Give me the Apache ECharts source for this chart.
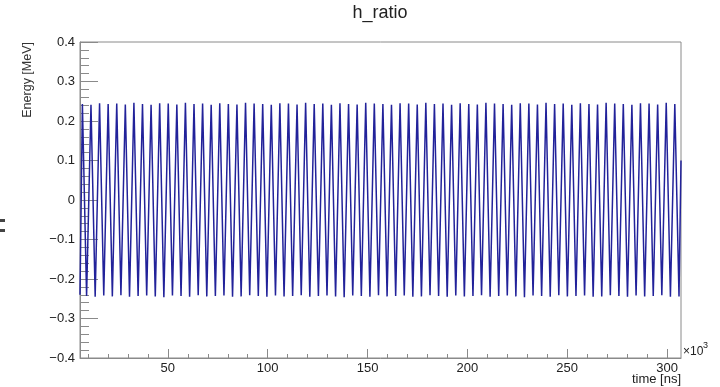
<!DOCTYPE html>
<html>
<head>
<meta charset="utf-8">
<script src="https://cdn.jsdelivr.net/npm/echarts@6/dist/echarts.min.js"></script>
<style>
html,body{margin:0;padding:0;background:#fff;}
#chart{width:720px;height:387px;}
</style>
</head>
<body>
<div id="chart"></div>
<script>
// ---- data (time in 10^3 ns, energy in MeV) ----
const startPoint = [6.0, -0.240];
const peakTime = [7.2, 11.5, 15.8, 20.1, 24.4, 28.7, 33.0, 37.3, 41.6, 45.9, 50.2, 54.5, 58.8, 63.1, 67.4, 71.7, 76.0, 80.3, 84.6, 88.9, 93.2, 97.5, 101.8, 106.1, 110.4, 114.7, 119.0, 123.3, 127.6, 131.9, 136.2, 140.5, 144.8, 149.1, 153.4, 157.7, 162.0, 166.3, 170.6, 174.9, 179.2, 183.5, 187.8, 192.1, 196.4, 200.7, 205.0, 209.3, 213.6, 217.9, 222.2, 226.5, 230.8, 235.1, 239.4, 243.7, 248.0, 252.3, 256.6, 260.9, 265.2, 269.5, 273.8, 278.1, 282.4, 286.7, 291.0, 295.3, 299.6, 303.9];
const peakEnergy = [0.243, 0.241, 0.245, 0.243, 0.244, 0.242, 0.246, 0.243, 0.241, 0.245, 0.244, 0.242, 0.246, 0.243, 0.244, 0.241, 0.245, 0.243, 0.242, 0.246, 0.244, 0.243, 0.241, 0.245, 0.244, 0.242, 0.246, 0.243, 0.244, 0.241, 0.245, 0.243, 0.242, 0.246, 0.244, 0.243, 0.241, 0.245, 0.244, 0.242, 0.246, 0.243, 0.244, 0.241, 0.245, 0.243, 0.242, 0.246, 0.244, 0.243, 0.241, 0.245, 0.244, 0.242, 0.246, 0.243, 0.244, 0.241, 0.245, 0.243, 0.242, 0.246, 0.244, 0.243, 0.241, 0.245, 0.244, 0.242, 0.246, 0.243];
const troughTime = [9.3, 13.6, 17.9, 22.2, 26.5, 30.8, 35.1, 39.4, 43.7, 48.0, 52.3, 56.6, 60.9, 65.2, 69.5, 73.8, 78.1, 82.4, 86.7, 91.0, 95.3, 99.6, 103.9, 108.2, 112.5, 116.8, 121.1, 125.4, 129.7, 134.0, 138.3, 142.6, 146.9, 151.2, 155.5, 159.8, 164.1, 168.4, 172.7, 177.0, 181.3, 185.6, 189.9, 194.2, 198.5, 202.8, 207.1, 211.4, 215.7, 220.0, 224.3, 228.6, 232.9, 237.2, 241.5, 245.8, 250.1, 254.4, 258.7, 263.0, 267.3, 271.6, 275.9, 280.2, 284.5, 288.8, 293.1, 297.4, 301.7, 306.0];
const troughEnergy = [-0.243, -0.245, -0.242, -0.244, -0.241, -0.245, -0.243, -0.242, -0.244, -0.246, -0.242, -0.243, -0.245, -0.241, -0.244, -0.243, -0.242, -0.245, -0.244, -0.241, -0.243, -0.245, -0.242, -0.244, -0.243, -0.241, -0.245, -0.243, -0.242, -0.244, -0.246, -0.242, -0.243, -0.245, -0.241, -0.244, -0.243, -0.242, -0.245, -0.244, -0.241, -0.243, -0.245, -0.242, -0.244, -0.243, -0.241, -0.245, -0.243, -0.242, -0.244, -0.246, -0.242, -0.243, -0.245, -0.241, -0.244, -0.243, -0.242, -0.245, -0.244, -0.241, -0.243, -0.245, -0.242, -0.244, -0.243, -0.241, -0.245, -0.244];
const endPoint = [307.0, 0.10];
const xMajorTicks = [50, 100, 150, 200, 250, 300];
const xMinorTicks = [10, 20, 30, 40, 50, 60, 70, 80, 90, 100, 110, 120, 130, 140, 150, 160, 170, 180, 190, 200, 210, 220, 230, 240, 250, 260, 270, 280, 290, 300];

// build series points
const points = [startPoint];
for (let i = 0; i < peakTime.length; i++) {
  points.push([peakTime[i], peakEnergy[i]]);
  points.push([troughTime[i], troughEnergy[i]]);
}
points.push(endPoint);

const axisColor = '#8a8a8a';
const textColor = '#222';
const font = 'Liberation Sans, Arial, Helvetica, sans-serif';

const chart = echarts.init(document.getElementById('chart'), null, {renderer: 'canvas'});
chart.setOption({
  animation: false,
  backgroundColor: '#fff',
  grid: {left: 80, right: 39, top: 42, bottom: 29, show: true, borderColor: axisColor, borderWidth: 1, backgroundColor: 'transparent'},
  xAxis: [{
    type: 'value', min: 6, max: 307,
    axisLine: {show: true, onZero: false, lineStyle: {color: axisColor, width: 1}},
    axisTick: {show: true, inside: true, length: 9, customValues: xMajorTicks, lineStyle: {color: axisColor}},
    axisLabel: {show: true, customValues: xMajorTicks, margin: 4, fontSize: 13, fontFamily: font, color: textColor},
    splitLine: {show: false}
  }, {
    type: 'value', min: 6, max: 307, position: 'bottom',
    axisLine: {show: false, onZero: false},
    axisTick: {show: true, inside: true, length: 4, customValues: xMinorTicks, lineStyle: {color: axisColor}},
    axisLabel: {show: false},
    splitLine: {show: false}
  }],
  yAxis: {
    type: 'value', min: -0.4, max: 0.4, interval: 0.1,
    axisLine: {show: true, onZero: false, lineStyle: {color: axisColor, width: 1}},
    axisTick: {show: true, inside: true, length: 18, lineStyle: {color: axisColor}},
    minorTick: {show: true, splitNumber: 5, length: 9, lineStyle: {color: axisColor}},
    axisLabel: {
      margin: 5, fontSize: 13, fontFamily: font, color: textColor,
      formatter: function (v) {
        const r = Math.round(v * 10) / 10;
        if (r === 0) return '0';
        return r < 0 ? '\u2212' + Math.abs(r).toFixed(1) : r.toFixed(1);
      }
    },
    splitLine: {show: false}
  },
  graphic: [
    {type: 'text', x: 380, y: 4,
     style: {text: 'h_ratio', fontSize: 18, fontFamily: font, fill: textColor, textAlign: 'center', textVerticalAlign: 'top'}},
    {type: 'text', x: 21, y: 42, rotation: Math.PI / 2,
     style: {text: 'Energy [MeV]', fontSize: 12.5, fontFamily: font, fill: '#333', textAlign: 'right', textVerticalAlign: 'top'}},
    {type: 'text', right: 39, top: 373,
     style: {text: 'time [ns]', fontSize: 13, fontFamily: font, fill: textColor}},
    {type: 'text', left: 683, top: 346,
     style: {text: '\u00d710', fontSize: 12, fontFamily: font, fill: textColor}},
    {type: 'text', left: 703, top: 341,
     style: {text: '3', fontSize: 9, fontFamily: font, fill: textColor}},
    {type: 'rect', left: 0, top: 219, shape: {width: 5, height: 3}, style: {fill: '#444'}},
    {type: 'rect', left: 0, top: 229, shape: {width: 5, height: 3}, style: {fill: '#444'}}
  ],
  series: [{
    type: 'line',
    xAxisIndex: 0,
    data: points,
    showSymbol: false,
    lineStyle: {color: '#22229a', width: 1.5},
    clip: true
  }]
});
</script>
</body>
</html>
